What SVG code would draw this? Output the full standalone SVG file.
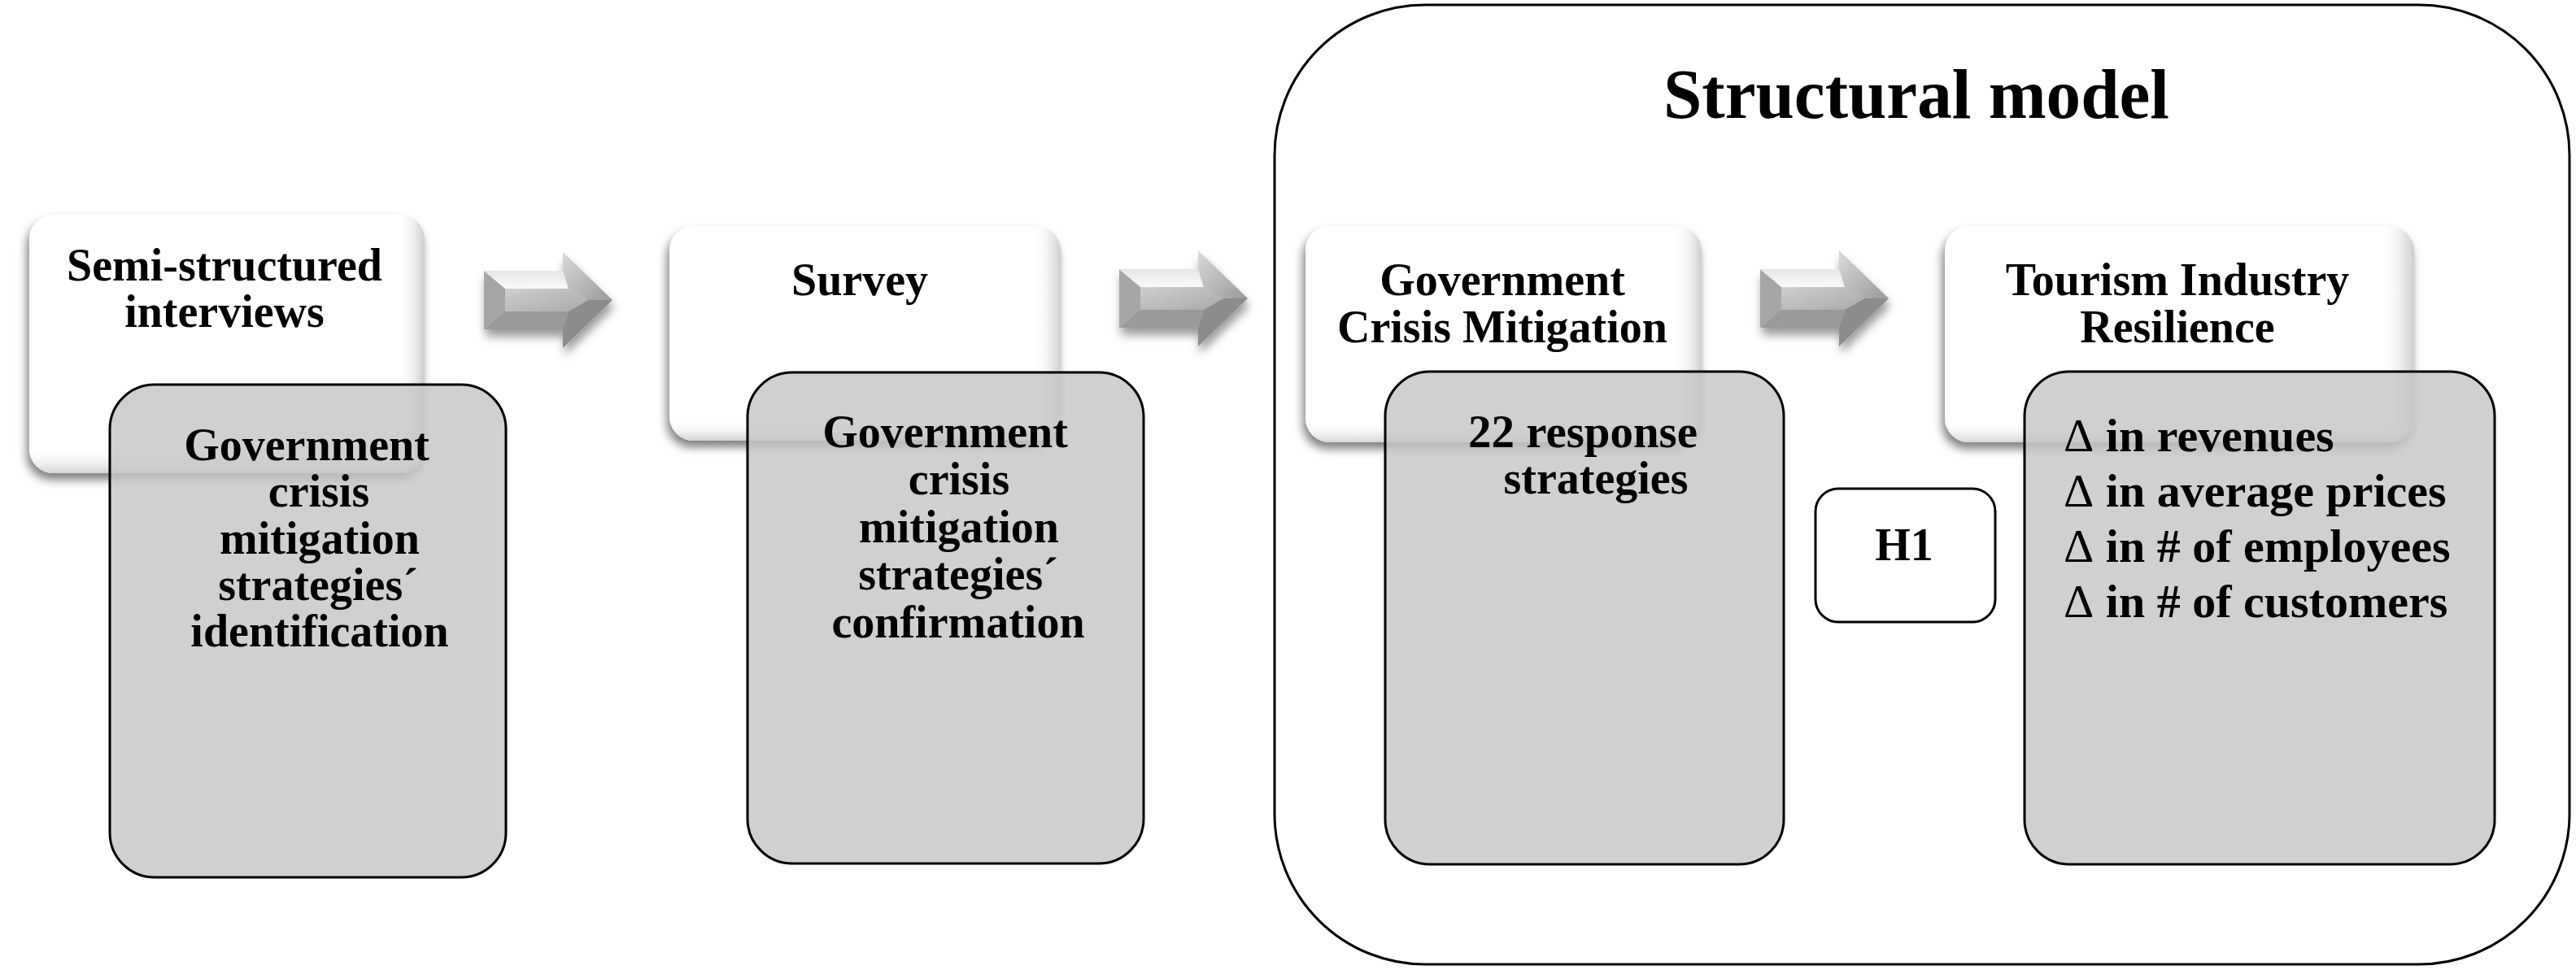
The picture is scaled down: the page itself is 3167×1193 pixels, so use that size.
<svg xmlns="http://www.w3.org/2000/svg" width="3167" height="1193" viewBox="0 0 3167 1193">
<style>
.t{font-family:"Liberation Serif","Times New Roman",serif;font-weight:bold;font-size:56px;fill:#000}
.tr{font-family:"Liberation Serif","Times New Roman",serif;font-weight:bold;font-size:56px;fill:#000}
.tl{font-family:"Liberation Serif","Times New Roman",serif;font-weight:bold;font-size:58px;fill:#000}
.c{text-anchor:middle}
.grey{fill:#c6c6c6;fill-opacity:0.82;stroke:#000;stroke-width:3}
.white{fill:#fff;filter:url(#boxShadow)}
.bevR{fill:url(#bevelR)}
.bevB{fill:url(#bevelB)}
.delta{font-weight:normal}
</style>
<defs>
<filter id="boxShadow" x="-10%" y="-10%" width="125%" height="130%">
<feDropShadow dx="-3" dy="8" stdDeviation="6" flood-color="#000" flood-opacity="0.5"/>
</filter>
<filter id="arrShadow" x="-20%" y="-30%" width="150%" height="170%">
<feDropShadow dx="2" dy="9" stdDeviation="6" flood-color="#000" flood-opacity="0.4"/>
</filter>
<linearGradient id="bevelR" x1="0" y1="0" x2="1" y2="0">
<stop offset="0.93" stop-color="#fff" stop-opacity="0"/>
<stop offset="1" stop-color="#c8c8c8" stop-opacity="0.9"/>
</linearGradient>
<linearGradient id="bevelB" x1="0" y1="0" x2="0" y2="1">
<stop offset="0.9" stop-color="#fff" stop-opacity="0"/>
<stop offset="1" stop-color="#cfcfcf" stop-opacity="0.9"/>
</linearGradient>
<linearGradient id="gTop" x1="0" y1="0" x2="0" y2="1">
<stop offset="0" stop-color="#e6e6e6"/>
<stop offset="1" stop-color="#fafafa"/>
</linearGradient>
<linearGradient id="gFront" x1="0" y1="0" x2="1" y2="1">
<stop offset="0" stop-color="#cfcfcf"/>
<stop offset="1" stop-color="#a9a9a9"/>
</linearGradient>
<linearGradient id="gHeadU" x1="0" y1="0" x2="1" y2="1">
<stop offset="0" stop-color="#dadada"/>
<stop offset="1" stop-color="#9a9a9a"/>
</linearGradient>
<g id="arrow" filter="url(#arrShadow)">
<polygon points="0,-36 26,-14 26,14 0,36" fill="#a6a6a6"/>
<polygon points="0,-36 97,-36 104,-14 26,-14" fill="url(#gTop)"/>
<polygon points="97,-59 158,0 128,0 104,-14 97,-36" fill="url(#gHeadU)"/>
<polygon points="158,0 97,59 97,36 104,14 128,0" fill="#8c8c8c"/>
<polygon points="0,36 97,36 104,14 26,14" fill="#9a9a9a"/>
<polygon points="26,-14 104,-14 128,0 104,14 26,14" fill="url(#gFront)"/>
</g>
</defs>

<g id="structural-model">
<rect x="1567" y="6" width="1592" height="1180" rx="185" ry="185" fill="#fff" stroke="#000" stroke-width="3"/>
<text class="t c" x="2356" y="145" style="font-size:86px" textLength="622" lengthAdjust="spacingAndGlyphs">Structural model</text>
</g>

<g id="semi-structured-interviews">
<rect class="white" x="36" y="264" width="486" height="318" rx="30"/>
<rect class="bevR" x="36" y="264" width="486" height="318" rx="30"/>
<rect class="bevB" x="36" y="264" width="486" height="318" rx="30"/>
<text class="t c" x="276" y="345">Semi-structured</text>
<text class="t c" x="276" y="402">interviews</text>
</g>

<g id="survey">
<rect class="white" x="823" y="278" width="481" height="264" rx="30"/>
<rect class="bevR" x="823" y="278" width="481" height="264" rx="30"/>
<rect class="bevB" x="823" y="278" width="481" height="264" rx="30"/>
<text class="t c" x="1057" y="363">Survey</text>
</g>

<g id="government-crisis-mitigation">
<rect class="white" x="1605" y="278" width="487" height="266" rx="30"/>
<rect class="bevR" x="1605" y="278" width="487" height="266" rx="30"/>
<rect class="bevB" x="1605" y="278" width="487" height="266" rx="30"/>
<text class="tr c" x="1847" y="363">Government</text>
<text class="tr c" x="1847" y="421">Crisis Mitigation</text>
</g>

<g id="tourism-industry-resilience">
<rect class="white" x="2391" y="278" width="577" height="266" rx="30"/>
<rect class="bevR" x="2391" y="278" width="577" height="266" rx="30"/>
<rect class="bevB" x="2391" y="278" width="577" height="266" rx="30"/>
<text class="tr c" x="2677" y="363">Tourism Industry</text>
<text class="tr c" x="2677" y="421">Resilience</text>
</g>

<g id="connectors">
<use href="#arrow" transform="translate(595,369)"/>
<use href="#arrow" transform="translate(1376,367)"/>
<use href="#arrow" transform="translate(2164,367)"/>
</g>

<g id="identification">
<rect class="grey" x="135" y="473" width="487" height="606" rx="55"/>
<text class="t c" x="377" y="566">Government</text>
<text class="t c" x="392" y="623">crisis</text>
<text class="t c" x="393" y="681">mitigation</text>
<text class="t c" x="391" y="738">strategies´</text>
<text class="t c" x="393" y="795">identification</text>
</g>

<g id="confirmation">
<rect class="grey" x="919" y="458" width="487" height="604" rx="55"/>
<text class="t c" x="1162" y="550">Government</text>
<text class="t c" x="1179" y="608">crisis</text>
<text class="t c" x="1179" y="667">mitigation</text>
<text class="t c" x="1178" y="725">strategies´</text>
<text class="t c" x="1178" y="784">confirmation</text>
</g>

<g id="response-strategies">
<rect class="grey" x="1703" y="457" width="490" height="606" rx="55"/>
<text class="tr c" x="1946" y="550" textLength="282" lengthAdjust="spacingAndGlyphs">22 response</text>
<text class="tr c" x="1962" y="607">strategies</text>
</g>

<g id="resilience-measures">
<rect class="grey" x="2489" y="457" width="578" height="606" rx="55"/>
<text class="tl" x="2537" y="555"><tspan class="delta">Δ</tspan> in revenues</text>
<text class="tl" x="2537" y="623"><tspan class="delta">Δ</tspan> in average prices</text>
<text class="tl" x="2537" y="691"><tspan class="delta">Δ</tspan> in # of employees</text>
<text class="tl" x="2537" y="759"><tspan class="delta">Δ</tspan> in # of customers</text>
</g>

<g id="h1">
<rect x="2232" y="601" width="221" height="164" rx="28" fill="#fff" stroke="#000" stroke-width="3"/>
<text class="t c" x="2341" y="689">H1</text>
</g>
</svg>
